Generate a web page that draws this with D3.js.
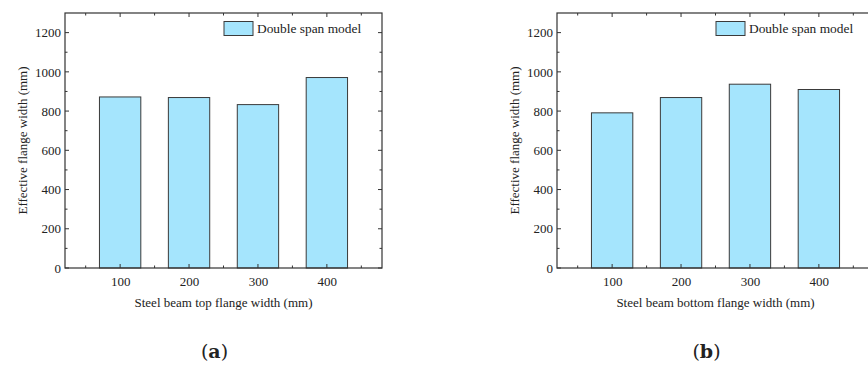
<!DOCTYPE html>
<html>
<head>
<meta charset="utf-8">
<script src="https://cdn.jsdelivr.net/npm/d3@7"></script>
<style>
  body { margin: 0; background: #fff; }
  svg text { font-family: "Liberation Serif", "Times New Roman", serif; fill: #222; }
</style>
</head>
<body>
<svg id="chart" width="868" height="367"></svg>
<script>
var categories = [100, 200, 300, 400];
var topFlangeValues = [872, 869, 833, 971];
var bottomFlangeValues = [791, 869, 937, 910];
var yTicks = [0, 200, 400, 600, 800, 1000, 1200];
var seriesName = "Double span model";
var yLabel = "Effective flange width (mm)";

var svg = d3.select("#chart");

function drawPanel(left, values, xLabel, tag) {
    var top = 13, height = 255, width = 317;

    var g = svg.append("g")
        .attr("transform", "translate(" + left + "," + top + ")");

    var x = d3.scaleLinear().domain([20, 480]).range([0, width]);
    var y = d3.scaleLinear().domain([0, 1300]).range([height, 0]);
    var barW = x(60) - x(0);

    // bars
    g.selectAll(".bar")
        .data(values)
        .enter()
        .append("rect")
        .attr("x", function(d, i) { return x(categories[i]) - barW / 2; })
        .attr("y", function(d) { return y(d); })
        .attr("width", barW)
        .attr("height", function(d) { return height - y(d); })
        .attr("fill", "#a5e5fd")
        .attr("stroke", "#3a3a3a")
        .attr("stroke-width", 1);

    // frame
    g.append("rect")
        .attr("width", width)
        .attr("height", height)
        .attr("fill", "none")
        .attr("stroke", "#333")
        .attr("stroke-width", 1.2);

    // bottom axis
    var xAxis = d3.axisBottom(x).tickValues(categories).tickSize(0).tickPadding(9);
    var xa = g.append("g").attr("transform", "translate(0," + height + ")").call(xAxis);
    xa.select(".domain").remove();
    xa.selectAll("text").style("font-size", "13px").attr("fill", "#222");

    // left axis
    var yAxis = d3.axisLeft(y).tickValues(yTicks).tickFormat(d3.format("d")).tickSize(0).tickPadding(4);
    var ya = g.append("g").call(yAxis);
    ya.select(".domain").remove();
    ya.selectAll("text").style("font-size", "13px").attr("fill", "#222");

    // inward ticks on all four sides
    var xMinor = [50, 150, 250, 350, 450];
    var yMinor = d3.range(100, 1300, 200);
    var tk = g.append("g").attr("stroke", "#333").attr("stroke-width", 1);
    categories.forEach(function(v) {
        tk.append("line").attr("x1", x(v)).attr("x2", x(v)).attr("y1", height).attr("y2", height - 4);
        tk.append("line").attr("x1", x(v)).attr("x2", x(v)).attr("y1", 0).attr("y2", 4);
    });
    xMinor.forEach(function(v) {
        tk.append("line").attr("x1", x(v)).attr("x2", x(v)).attr("y1", height).attr("y2", height - 2.5);
        tk.append("line").attr("x1", x(v)).attr("x2", x(v)).attr("y1", 0).attr("y2", 2.5);
    });
    yTicks.forEach(function(v) {
        tk.append("line").attr("x1", 0).attr("x2", 4).attr("y1", y(v)).attr("y2", y(v));
        tk.append("line").attr("x1", width).attr("x2", width - 4).attr("y1", y(v)).attr("y2", y(v));
    });
    yMinor.forEach(function(v) {
        tk.append("line").attr("x1", 0).attr("x2", 2.5).attr("y1", y(v)).attr("y2", y(v));
        tk.append("line").attr("x1", width).attr("x2", width - 2.5).attr("y1", y(v)).attr("y2", y(v));
    });

    // legend
    g.append("rect")
        .attr("x", 159).attr("y", 8.5)
        .attr("width", 29).attr("height", 14)
        .attr("fill", "#a5e5fd")
        .attr("stroke", "#3a3a3a");
    g.append("text")
        .attr("x", 192).attr("y", 20)
        .style("font-size", "13.4px")
        .text(seriesName);

    // axis titles
    g.append("text")
        .attr("transform", "translate(-38," + (height / 2) + ") rotate(-90)")
        .attr("text-anchor", "middle")
        .style("font-size", "13px")
        .text(yLabel);

    g.append("text")
        .attr("x", width / 2)
        .attr("y", height + 39)
        .attr("text-anchor", "middle")
        .style("font-size", "13px")
        .text(xLabel);

    // panel tag
    var t = svg.append("text")
        .attr("x", left + width / 2 - 9)
        .attr("y", 358)
        .attr("text-anchor", "middle")
        .style("font-size", "19px")
        .style("font-family", "'DejaVu Serif', serif");
    t.append("tspan").text("(");
    t.append("tspan").style("font-weight", "bold").text(tag);
    t.append("tspan").text(")");
}

drawPanel(65, topFlangeValues, "Steel beam top flange width (mm)", "a");
drawPanel(557, bottomFlangeValues, "Steel beam bottom flange width (mm)", "b");
</script>
</body>
</html>
